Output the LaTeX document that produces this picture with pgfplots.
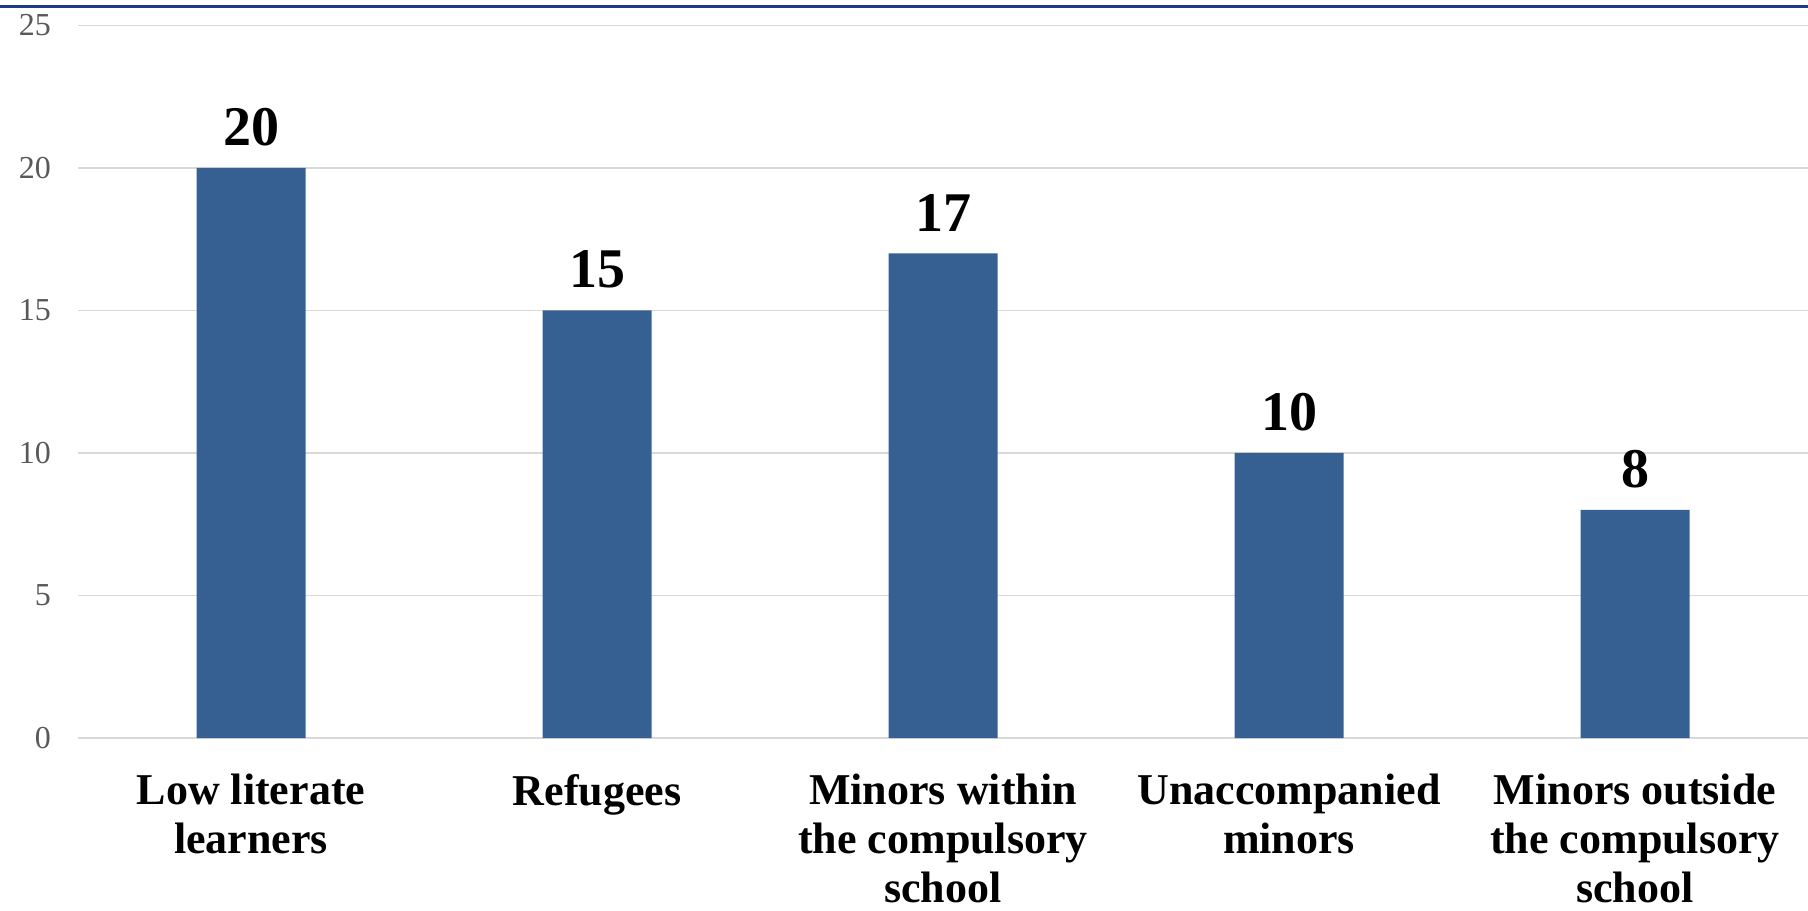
\documentclass[border=0pt]{standalone}
\usepackage{pgfplots}
\pgfplotsset{compat=1.18}
\usepackage{fontspec}
\setmainfont{Liberation Serif}

\definecolor{barblue}{RGB}{55,96,146}
\definecolor{rulerblue}{RGB}{30,58,138}
\definecolor{gridgray}{RGB}{217,217,217}
\definecolor{ticktext}{RGB}{89,89,89}

\begin{document}
\begin{tikzpicture}
\useasboundingbox (0,0) rectangle (904pt,455pt);
% rule across the top of the figure
\draw[rulerblue, line width=1.6pt] (0,451.6pt) -- (904pt,451.6pt);
\begin{axis}[
  at={(39pt,86pt)}, anchor=south west,
  scale only axis,
  width=865pt, height=356.3pt,
  xmin=-0.5, xmax=4.5,
  ymin=0, ymax=25,
  ytick={0,5,10,15,20,25},
  xtick={0,1,2,3,4},
  xticklabels={
    {Low literate\\learners},
    {Refugees},
    {Minors within\\the compulsory\\school},
    {Unaccompanied\\minors},
    {Minors outside\\the compulsory\\school}},
  ymajorgrids,
  grid style={gridgray, line width=0.7pt},
  axis line style={draw=none},
  major tick length=0pt,
  /pgf/number format/assume math mode=true,
  yticklabel style={font=\fontsize{16}{18}\selectfont, text=ticktext, xshift=-10pt},
  xticklabel style={font=\fontsize{22}{24.4}\selectfont\bfseries, align=center, yshift=-14.5pt},
  nodes near coords,
  every node near coord/.append style={font=\fontsize{28}{30}\selectfont\bfseries, text=black, yshift=7.5pt},
  clip=false,
]
\addplot[ybar, bar width=54.5pt, fill=barblue, draw=none]
  coordinates {(0,20) (1,15) (2,17) (3,10) (4,8)};
\end{axis}
\end{tikzpicture}
\end{document}
